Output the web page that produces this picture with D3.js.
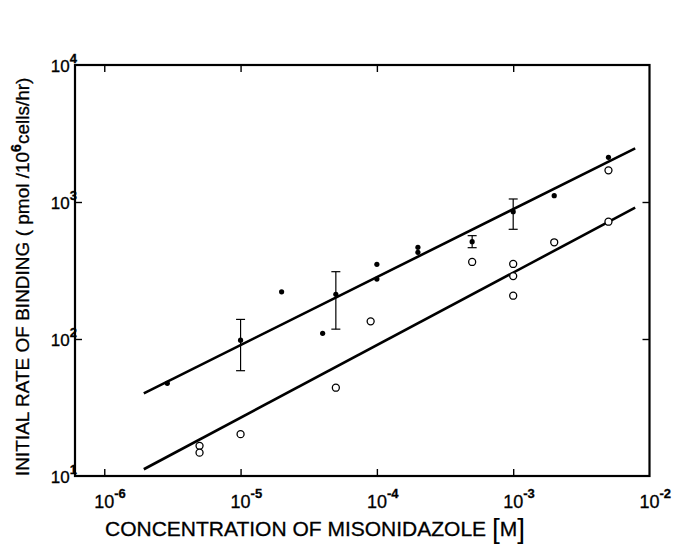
<!DOCTYPE html>
<html><head><meta charset="utf-8">
<script src="https://cdn.jsdelivr.net/npm/d3@7/dist/d3.min.js"></script>
<style>body{margin:0;background:#fff}svg{display:block}</style>
</head><body>
<svg id="c" width="673" height="544"></svg>
<script>
// ---- data ----
const xTickValues = [1e-6, 1e-5, 1e-4, 1e-3, 1e-2];
const xTickExp = ["-6", "-5", "-4", "-3", "-2"];
const yTickValues = [10, 100, 1000, 10000];
const yTickExp = ["1", "2", "3", "4"];

// closed symbols (with error bars at some concentrations)
const filledX = [2.9e-6, 1e-5, 2e-5, 4e-5, 5e-5, 1e-4, 1e-4, 2e-4, 2e-4, 5e-4, 1e-3, 2e-3, 5e-3];
const filledY = [47.5, 98, 221, 110, 212, 351, 274, 467, 429, 513, 850, 1112, 2119];
const errX    = [1e-5, 5e-5, 5e-4, 1e-3];
const errLow  = [58.7, 118, 464, 632];
const errHigh = [139, 310, 568, 1052];

// open symbols
const openX = [5e-6, 5e-6, 1e-5, 5e-5, 9e-5, 5e-4, 1e-3, 1e-3, 1e-3, 2e-3, 5e-3, 5e-3];
const openY = [16.6, 14.8, 20.2, 44.1, 134.6, 365, 353, 288, 207, 508, 1703, 718];

// fitted lines
const lineX  = [1.95e-6, 7.85e-3];
const upperY = [40.1, 2466];
const lowerY = [11.2, 909];

const xLabel = "CONCENTRATION OF MISONIDAZOLE";
const yLabelA = "INITIAL RATE OF BINDING ( pmol  /10";
const yLabelSup = "6";
const yLabelB = "cells/hr)";

// ---- drawing ----
const svg = d3.select("#c");
const L = 75, R = 649.5, T = 65, B = 476;
const x = d3.scaleLog().domain([6.1e-7, 1e-2]).range([L, R]);
const y = d3.scaleLog().domain([10, 1e4]).range([B, T]);
const FONT = "'Liberation Sans', Arial, sans-serif";

// frame
svg.append("rect").attr("x", L).attr("y", T).attr("width", R - L).attr("height", B - T)
  .attr("fill", "none").attr("stroke", "#000").attr("stroke-width", 2.2);

function styleAxis(g) {
  g.select(".domain").remove();
  g.selectAll(".tick line").attr("stroke", "#000").attr("stroke-width", 1.4);
  g.selectAll(".tick text").remove();
}
const innerX = [1e-6, 1e-5, 1e-4, 1e-3];
const innerY = [100, 1000];
svg.append("g").attr("transform", `translate(0,${B})`)
  .call(d3.axisBottom(x).tickValues(innerX).tickSize(-7).tickSizeOuter(0).tickFormat("")).call(styleAxis);
svg.append("g").attr("transform", `translate(0,${T})`)
  .call(d3.axisTop(x).tickValues(innerX).tickSize(-7).tickSizeOuter(0).tickFormat("")).call(styleAxis);
svg.append("g").attr("transform", `translate(${L},0)`)
  .call(d3.axisLeft(y).tickValues(innerY).tickSize(-7).tickSizeOuter(0).tickFormat("")).call(styleAxis);
svg.append("g").attr("transform", `translate(${R},0)`)
  .call(d3.axisRight(y).tickValues(innerY).tickSize(-7).tickSizeOuter(0).tickFormat("")).call(styleAxis);

// x tick labels
xTickValues.forEach((v, i) => {
  const t = svg.append("text").attr("x", x(v) - 10).attr("y", 508)
    .attr("font-family", FONT).attr("font-size", 18).attr("fill", "#000")
    .attr("stroke", "#000").attr("stroke-width", 0.3);
  t.append("tspan").text("10");
  t.append("tspan").attr("dy", -10).attr("font-size", 13).attr("font-weight", "bold").text(xTickExp[i]);
});
// y tick labels
yTickValues.forEach((v, i) => {
  const t = svg.append("text").attr("x", 77).attr("y", y(v) + 7).attr("text-anchor", "end")
    .attr("font-family", FONT).attr("font-size", 17).attr("fill", "#000")
    .attr("stroke", "#000").attr("stroke-width", 0.3);
  t.append("tspan").text("10");
  t.append("tspan").attr("dy", -9).attr("font-size", 13).attr("font-weight", "bold").text(yTickExp[i]);
});

// fitted lines
const line = d3.line().x(d => x(d[0])).y(d => y(d[1]));
[upperY, lowerY].forEach(ys => {
  svg.append("path").datum(lineX.map((v, i) => [v, ys[i]]))
    .attr("d", line).attr("fill", "none").attr("stroke", "#000").attr("stroke-width", 2.6);
});

// error bars
errX.forEach((v, i) => {
  const cx = x(v), y1 = y(errLow[i]), y2 = y(errHigh[i]);
  const g = svg.append("g").attr("stroke", "#000").attr("stroke-width", 1.2);
  g.append("line").attr("x1", cx).attr("x2", cx).attr("y1", y1).attr("y2", y2);
  g.append("line").attr("x1", cx - 4.5).attr("x2", cx + 4.5).attr("y1", y1).attr("y2", y1);
  g.append("line").attr("x1", cx - 4.5).attr("x2", cx + 4.5).attr("y1", y2).attr("y2", y2);
});

// filled points
svg.append("g").selectAll("circle").data(filledX.map((v, i) => [v, filledY[i]])).join("circle")
  .attr("cx", d => x(d[0])).attr("cy", d => y(d[1])).attr("r", 2.6).attr("fill", "#000");

// open points
svg.append("g").selectAll("circle").data(openX.map((v, i) => [v, openY[i]])).join("circle")
  .attr("cx", d => x(d[0])).attr("cy", d => y(d[1])).attr("r", 3.5)
  .attr("fill", "#fff").attr("stroke", "#000").attr("stroke-width", 1.3);

// axis titles
const xt = svg.append("text").attr("x", 105).attr("y", 536)
  .attr("font-family", FONT).attr("font-size", 21).attr("fill", "#000")
  .attr("stroke", "#000").attr("stroke-width", 0.3);
xt.append("tspan").text(xLabel + " ");
xt.append("tspan").attr("font-size", 28).attr("stroke-width", 0).attr("dy", 2).text("[");
xt.append("tspan").attr("font-size", 21).attr("dy", -2).text("M");
xt.append("tspan").attr("font-size", 28).attr("stroke-width", 0).attr("dy", 2).text("]");

const yt = svg.append("text").attr("transform", "translate(29,476) rotate(-90)")
  .attr("font-family", FONT).attr("font-size", 19).attr("fill", "#000")
  .attr("stroke", "#000").attr("stroke-width", 0.3);
yt.append("tspan").text(yLabelA);
yt.append("tspan").attr("dy", -8).attr("font-size", 14).attr("font-weight", "bold").text(yLabelSup);
yt.append("tspan").attr("dy", 8).text(yLabelB);
</script>
</body></html>
